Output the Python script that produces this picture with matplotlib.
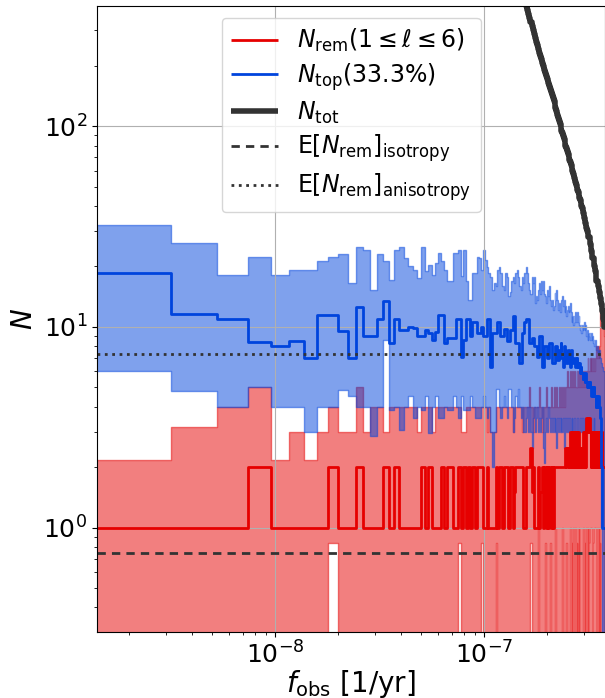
import numpy as np
import matplotlib
matplotlib.use("Agg")
import matplotlib.pyplot as plt

# Frequency bins: k / T_obs, k = 1..177, with T_obs = 15 yr
T_OBS = 15 * 365.25 * 86400.0
f_res = 1.0 / T_OBS
n_bins = 177
edges = (np.arange(1, n_bins + 2) - 0.5) * f_res

# median number of remaining binaries (1 <= l <= 6) per bin
rem_med = [
    1, 1, 1, 2, 1, 1, 1, 1, 2, 1,
    1, 2, 1, 1, 1, 2, 1, 2, 1, 1,
    1, 1, 1, 2, 1, 2, 1, 1, 1, 2,
    1, 2, 2, 1, 1, 2, 1, 2, 1, 2,
    1, 2, 1, 2, 2, 2, 1, 1, 2, 1,
    1, 1, 1, 2, 1, 2, 2, 1, 2, 2,
    2, 1, 2, 2, 1, 1.5, 2, 2, 2, 2,
    2, 2, 1, 1, 2, 2, 2, 2, 2.5, 1.5,
    2, 1, 1, 1, 1, 2, 1, 1.5, 1.5, 2,
    1, 2, 2, 1, 2, 1, 2, 2, 1, 2,
    1, 2, 2, 2, 2, 2, 2, 2, 2, 2,
    2, 2, 2, 2, 2, 2.5, 2, 2.5, 2.5, 2,
    2.5, 3, 2, 3, 2, 3, 3, 2, 3, 2,
    3, 2, 3, 3, 2, 2.5, 2, 2.5, 2, 2.5,
    3, 2, 3, 2, 3, 3.5, 3, 3.5, 3, 3.5,
    3, 3, 2, 3, 2, 3, 3, 2, 3, 2,
    3, 3, 2, 3, 2, 3, 3, 2, 3, 2,
    3, 2, 3, 2, 2, 2, 2,
]

# lower / upper percentiles of N_rem
rem_lo = [0.0] * n_bins
for k, v in [(9, 0.84), (36, 0.84), (46, 0.84), (54, 0.84), (79, 0.84), (86, 1.0),
             (93, 0.84), (98, 0.84), (104, 1.0), (112, 1.0), (117, 0.84), (122, 1.0),
             (124, 0.84), (126, 1.0), (129, 1.0), (131, 0.84), (134, 1.0), (141, 1.0),
             (143, 0.84), (146, 1.0), (148, 1.0), (150, 0.84), (152, 1.0), (154, 1.0),
             (157, 0.84), (159, 1.0), (161, 1.0), (162, 0.84), (164, 1.0), (167, 1.0),
             (169, 0.84)]:
    rem_lo[k - 1] = v

rem_hi = [
    2.18, 3.16, 4.0, 5.0, 2.18, 3.0, 2.18, 3.0, 4.0, 3.0,
    3.0, 5.0, 3.0, 4.0, 4.0, 3.0, 4.0, 4.0, 4.0, 4.0,
    4, 4, 3, 4, 4, 4, 3, 4, 4, 4,
    4, 4, 4, 4, 4, 4, 3, 3, 4, 4,
    4, 4, 4, 4, 4, 4, 4, 4, 3, 4,
    3, 3, 3, 4, 4, 4, 4, 4, 4, 4,
    4, 4, 4, 4, 3, 4, 4, 4, 4, 4,
    4, 3, 4, 4, 4, 4, 4, 5, 4, 4,
    3, 4, 4, 4, 4, 4, 5, 4, 4, 3,
    4, 4, 4, 5, 4, 4, 4, 4, 5, 4,
    4, 5, 4, 4, 5, 4, 4, 5, 4, 4,
    5, 4, 5, 4, 4, 5, 5, 6, 5, 5,
    5, 6, 5, 5, 6, 5, 5, 6, 5, 5,
    6, 5, 6, 5, 5, 6, 6, 5, 6, 6,
    5, 6, 6, 5, 6, 6, 6, 7, 6, 6,
    6, 7, 6, 7, 6, 6, 7, 7, 6, 7,
    7, 7, 8, 7, 7, 8, 7, 8, 12, 12,
    12, 11, 11, 11, 10, 10, 9,
]

# median number of binaries in the top 33.3% per bin
top_med = [
    18.5, 11.6, 11.0, 8.45, 8.0, 8.5, 7.0, 11.5, 11.5, 9.5,
    7.0, 12.5, 9.0, 9.0, 11.0, 13.4, 8.3, 11.0, 9.7, 9.7,
    10.0, 9.9, 9.0, 9.0, 9.7, 9.3, 8.6, 9.4, 11.5, 11.5,
    8.3, 8.8, 8.8, 8.8, 11.0, 11.0, 7.1, 8.6, 11.0, 11.0,
    9.0, 10.6, 10.6, 9.3, 9.3, 10.0, 9.0, 9.0, 11.0, 11.0,
    6.3, 9.3, 9.3, 9.3, 10.6, 10.6, 9.0, 9.0, 9.8, 9.8,
    8.5, 8.5, 9.7, 9.7, 11.3, 11.3, 8.3, 8.3, 8.3, 6.6,
    6.6, 9.3, 9.3, 10.6, 11.0, 11.0, 11.0, 8.3, 8.3, 8.8,
    8.8, 8.0, 8.0, 8.0, 7.1, 7.1, 9.0, 9.0, 9.0, 6.3,
    6.3, 8.0, 8.0, 8.0, 7.0, 7.0, 8.3, 8.3, 8.3, 6.6,
    6.6, 6.6, 8.0, 8.0, 8.0, 6.85, 6.85, 7.7, 7.7, 8.3,
    7.0, 7.0, 6.3, 8.0, 8.0, 7.7, 6.6, 6.6, 7.7, 7.0,
    7.0, 6.3, 7.7, 7.7, 6.85, 6.6, 7.0, 7.0, 6.3, 6.3,
    7.0, 6.6, 6.3, 6.3, 6.6, 5.9, 6.3, 5.9, 5.9, 5.5,
    5.9, 5.5, 5.3, 5.9, 5.3, 5.3, 5.0, 5.3, 5.0, 5.0,
    5.3, 5.0, 5.0, 4.5, 5.0, 5.0, 4.5, 5.0, 4.5, 4.5,
    4.5, 4.0, 4.5, 4.0, 4.0, 4.5, 4.0, 4.0, 4.0, 3.5,
    3.0, 2.0, 1.0, 1.0, 1.0, 1.0, 1.0,
]

top_lo = [
    6.0, 4.82, 4.0, 5.0, 4.0, 4.0, 3.0, 4.0, 4.0, 4.86,
    4.5, 4.0, 4.0, 2.87, 4.0, 8.6, 3.85, 4.0, 3.07, 4.0,
    4.5, 3.5, 4.0, 3.85, 4.5, 2.96, 4.0, 4.5, 3.5, 3.5,
    4.0, 3.85, 3.85, 4.5, 4.0, 3.5, 4.5, 3.85, 3.85, 3.85,
    4.5, 4.0, 3.5, 3.5, 3.5, 4.0, 4.5, 4.0, 3.5, 4.0,
    3.0, 2.0, 3.0, 4.9, 4.9, 4.0, 3.5, 4.0, 4.5, 4.0,
    3.5, 4.9, 4.9, 4.0, 3.0, 3.5, 4.5, 4.0, 4.9, 4.0,
    3.5, 4.0, 3.0, 3.0, 3.5, 4.0, 3.0, 4.0, 3.0, 2.5,
    3.5, 4.0, 3.0, 3.5, 4.0, 3.0, 3.5, 3.0, 3.5, 4.0,
    2.5, 2.1, 3.0, 3.5, 3.0, 4.0, 3.5, 3.0, 3.5, 3.0,
    3.5, 3.0, 3.5, 3.0, 2.5, 3.5, 3.0, 3.5, 3.0, 3.5,
    3.0, 3.0, 3.5, 2.5, 3.0, 3.5, 3.0, 3.5, 3.0, 3.0,
    3.5, 3.0, 3.0, 3.5, 3.0, 2.5, 3.0, 3.5, 3.0, 3.0,
    3.0, 3.5, 3.0, 3.0, 3.0, 3.5, 3.0, 3.0, 3.5, 3.0,
    3.0, 3.0, 3.5, 3.0, 3.0, 3.0, 3.5, 3.0, 3.0, 3.0,
    3.0, 3.5, 3.0, 3.0, 3.0, 3.0, 3.0, 3.5, 3.0, 3.0,
    3.0, 3.0, 3.0, 3.0, 3.0, 3.0, 3.0, 3.0, 3.0, 2.5,
    2.0, 1.0, 0.0, 0.0, 0.0, 0.0, 0.0,
]

top_hi = [
    32.3, 26.1, 18.1, 22.2, 18.1, 19.2, 19.2, 21.2, 22.3, 23.1,
    16.6, 25.0, 24.2, 15.3, 23.2, 21.2, 17.1, 24.2, 25.1, 22.0,
    20.0, 19.2, 17.5, 25.0, 18.9, 20.4, 18.2, 20.8, 23.3, 21.2,
    19.2, 17.0, 17.0, 23.3, 23.3, 24.2, 17.9, 24.2, 17.0, 13.6,
    13.6, 18.6, 18.6, 22.3, 22.0, 19.2, 24.2, 21.6, 19.9, 18.6,
    17.8, 15.3, 16.5, 15.9, 19.2, 19.9, 18.6, 15.9, 15.3, 18.6,
    17.8, 14.2, 14.9, 16.9, 17.8, 16.5, 18.6, 19.2, 17.8, 15.9,
    15.3, 17.8, 16.5, 18.6, 19.9, 18.6, 16.5, 15.3, 14.6, 17.8,
    16.5, 17.8, 13.1, 14.2, 13.6, 15.3, 16.5, 14.6, 16.9, 15.3,
    16.9, 14.6, 14.2, 13.1, 15.3, 14.2, 15.9, 13.6, 12.7, 13.6,
    12.2, 12.7, 14.7, 13.6, 15.3, 13.6, 12.2, 13.1, 11.8, 12.7,
    13.6, 14.2, 12.7, 13.6, 11.8, 12.7, 11.3, 12.2, 12.7, 11.8,
    12.2, 13.1, 11.8, 10.6, 11.3, 10.2, 11.3, 10.6, 11.8, 10.6,
    11.3, 11.8, 10.6, 11.3, 10.2, 9.7, 10.2, 9.3, 10.2, 9.7,
    10.0, 10.6, 9.7, 10.2, 9.3, 9.0, 9.7, 8.6, 9.3, 9.0,
    9.3, 8.6, 9.0, 9.3, 8.6, 9.0, 8.3, 8.6, 8.0, 8.3,
    8.6, 8.0, 7.7, 8.0, 7.4, 7.7, 7.4, 7.7, 7.4, 7.0,
    7.0, 6.6, 6.5, 6.3, 6.3, 6.0, 6.0,
]

# total number of binaries per bin, from bin k = 72 upward
ntot_first_bin = 72
n_tot = [
    462, 439, 418, 398, 379, 362, 345, 330, 315, 301,
    288, 276, 264, 253, 242, 232, 223, 215, 206, 199,
    191, 184, 177, 171, 165, 159, 153, 148, 143, 138,
    133, 128, 123, 119, 114, 110, 106, 102, 99, 95,
    92, 89, 86, 83, 80, 78, 75, 73, 70, 68,
    66, 64, 62, 60, 58, 56, 55, 53, 51, 50,
    48, 47, 46, 44, 43, 42, 40, 39, 38, 37,
    35, 34, 33, 32, 31, 30, 29, 28, 28, 27,
    26, 25, 24, 23, 22, 22, 21, 20, 19, 19,
    18, 17, 17, 16, 16, 15, 15, 14, 14, 13,
    13, 12, 12, 11, 11, 10,
]

E_iso = 0.75
E_aniso = 7.35

RED = "#e60000"
BLUE = "#0044dd"
DARK = "#333333"

plt.rcParams["font.family"] = ["DejaVu Sans"]
plt.rcParams["mathtext.fontset"] = "dejavusans"

fig = plt.figure(figsize=(6.05, 6.98), dpi=100)
ax = fig.add_axes([0.1603, 0.0946, 0.8397, 0.8968])
ax.set_xscale("log")
ax.set_yscale("log")

floor = 1e-3


def band(lo, hi, color):
    lo = np.maximum(np.asarray(lo, float), floor)
    hi = np.asarray(hi, float)
    ax.fill_between(edges, np.append(lo, lo[-1]), np.append(hi, hi[-1]),
                    step="post", color=color, alpha=0.5, lw=1)


def steps(x_edges, vals, **kw):
    vals = np.asarray(vals, float)
    ax.plot(x_edges, np.append(vals, vals[-1]), drawstyle="steps-post",
            solid_joinstyle="round", solid_capstyle="butt", **kw)


band(rem_lo, rem_hi, RED)
band(top_lo, top_hi, BLUE)

steps(edges, rem_med, color=RED, lw=2, label=r"$N_{\rm rem}(1\leq\ell\leq6)$")
steps(edges, top_med, color=BLUE, lw=2, label=r"$N_{\rm top}(33.3\%)$")
steps(edges[ntot_first_bin - 1:], n_tot, color=DARK, lw=4, label=r"$N_{\rm tot}$")
ax.axhline(E_iso, color=DARK, lw=2, ls=(0, (3, 2.2)),
           label=r"E[$N_{\rm rem}$]$_{\rm isotropy}$")
ax.axhline(E_aniso, color=DARK, lw=2, ls=":",
           label=r"E[$N_{\rm rem}$]$_{\rm anisotropy}$")

ax.set_xlim(1.407e-9, 3.77e-7)
ax.set_ylim(0.302, 397)
ax.grid(True, which="major", color="#b0b0b0", lw=0.8)

ax.tick_params(axis="both", which="major", labelsize=18)
ax.set_xlabel(r"$f_{\rm obs}$ [1/yr]", fontsize=20, labelpad=-1)
ax.set_ylabel(r"$N$", fontsize=20)

ax.legend(loc="upper left", bbox_to_anchor=(0.2455, 0.9813), borderaxespad=0,
          fontsize=17, labelspacing=0.29)

fig.savefig("out.png", dpi=100)
